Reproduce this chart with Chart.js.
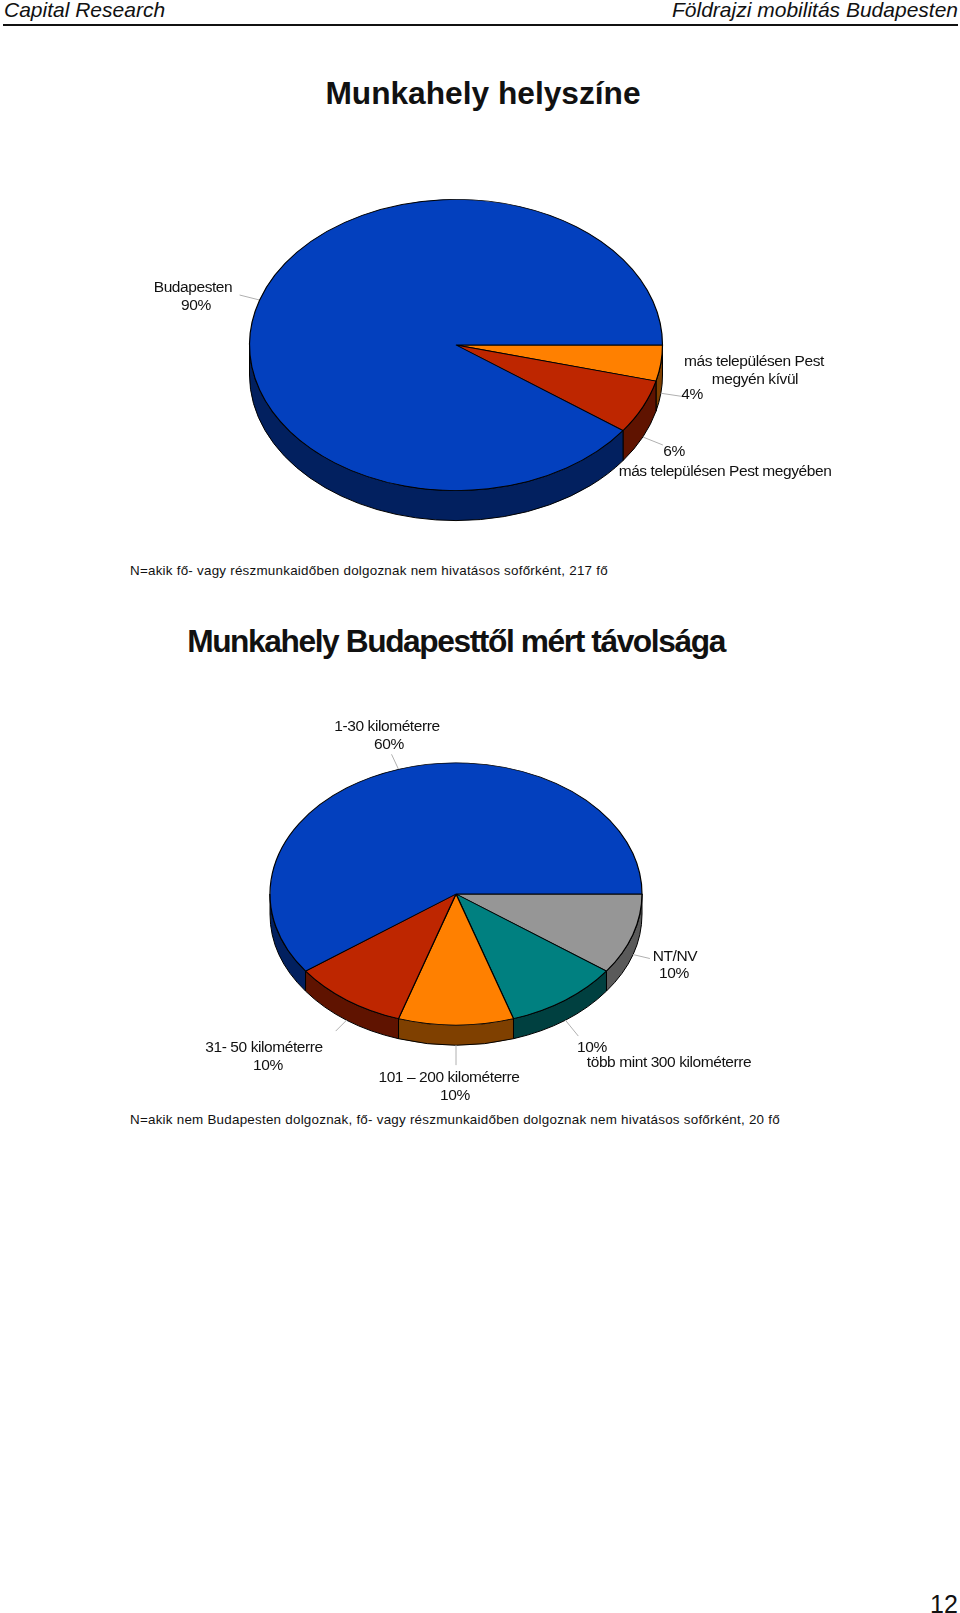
<!DOCTYPE html>
<html lang="hu">
<head>
    <meta charset="UTF-8">
    <title>Földrajzi mobilitás Budapesten</title>
    <script src="https://cdn.jsdelivr.net/npm/chart.js"></script>
    <style>
        html, body { margin: 0; padding: 0; background: #fff; }
        body { position: relative; width: 960px; height: 1613px; overflow: hidden;
               font-family: "Liberation Sans", Arial, sans-serif; color: #111; }
        canvas { position: absolute; left: 0; }
        .t { position: absolute; white-space: nowrap; transform: translate(-50%, -50%); }
        .lbl { font-size: 15.5px; letter-spacing: -0.42px; }
        .note { font-size: 13.4px; transform: translate(0, -50%); letter-spacing: 0.24px; }
        .title { font-weight: bold; font-size: 31.7px; }
        .head { font-style: italic; font-size: 21px; }
        #rule { position: absolute; left: 3px; top: 24px; width: 955px; height: 2px; background: #111; }
    </style>
</head>
<body>
    <div class="t head" style="left:4px;top:10px;transform:translate(0,-50%)">Capital Research</div>
    <div class="t head" style="right:2px;top:10px;transform:translate(0,-50%)">Földrajzi mobilitás Budapesten</div>
    <div id="rule"></div>
    <div class="t title" style="left:483px;top:93px">Munkahely helyszíne</div>
    <div class="t note" style="left:130px;top:570px">N=akik fő- vagy részmunkaidőben dolgoznak nem hivatásos sofőrként, 217 fő</div>
    <div class="t title" style="left:456px;top:641px;letter-spacing:-1.4px">Munkahely Budapesttől mért távolsága</div>
    <div class="t note" style="left:130px;top:1119px">N=akik nem Budapesten dolgoznak, fő- vagy részmunkaidőben dolgoznak nem hivatásos sofőrként, 20 fő</div>
    <div class="t" style="left:944px;top:1604px;font-size:25px">12</div>

    <canvas id="pie1" width="912" height="690" style="top:0"></canvas>
    <canvas id="pie2" width="912" height="440" style="top:674px"></canvas>

    <script>
        // first pie, clockwise from 3 o'clock
        const pie1Categories = ['más településen Pest megyén kívül', 'más településen Pest megyében', 'Budapesten'];
        const pie1Values = [4, 6, 90];
        const pie1Colors = ['#ff8000', '#be2600', '#0340be'];
        const pie1Sides = ['#7f4000', '#5f1300', '#02205f'];

        // second pie
        const pie2Categories = ['NT/NV', 'több mint 300 kilométerre', '101 – 200 kilométerre', '31- 50 kilométerre', '1-30 kilométerre'];
        const pie2Values = [10, 10, 10, 10, 60];
        const pie2Colors = ['#969696', '#008080', '#ff8000', '#be2600', '#0340be'];
        const pie2Sides = ['#5a5a5a', '#004040', '#7f4000', '#5f1300', '#02205f'];

        // label lines: [text, x, y]
        const pie1Text = [
            ['Budapesten', 193, 287], ['90%', 196, 305],
            ['más településen Pest', 754, 361], ['megyén kívül', 755, 379], ['4%', 692, 394],
            ['6%', 674, 451], ['más településen Pest megyében', 725, 471]
        ];
        const pie2Text = [
            ['1-30 kilométerre', 387, 726], ['60%', 389, 744],
            ['NT/NV', 675, 956], ['10%', 674, 973],
            ['31- 50 kilométerre', 264, 1047], ['10%', 268, 1065],
            ['101 – 200 kilométerre', 449, 1077], ['10%', 455, 1095],
            ['10%', 592, 1047], ['több mint 300 kilométerre', 669, 1062]
        ];
        // leader line ends relative to the slice edge, same order as the categories
        const pie1Leaders = [[20, 3], [20, 8], [-20, -5]];
        const pie2Leaders = [[17, 4], [13, 16], [0, 20], [-11, 11], [-7, -15]];

        const pie3d = {
            id: 'pie3d',
            beforeDatasetsDraw(chart, args, opts) {
                const ctx = chart.ctx;
                const arcs = chart.getDatasetMeta(0).data;
                const cx = arcs[0].x, cy = arcs[0].y, r = arcs[0].outerRadius;
                ctx.save();
                ctx.lineWidth = 1;
                ctx.strokeStyle = '#000';
                arcs.forEach((arc, i) => {
                    [0, 2 * Math.PI].forEach(shift => {
                        const from = Math.max(arc.startAngle, shift);
                        const to = Math.min(arc.endAngle, shift + Math.PI);
                        if (to <= from) return;
                        ctx.beginPath();
                        ctx.ellipse(cx, cy, r, r * opts.ratio, 0, from, to);
                        ctx.ellipse(cx, cy + opts.depth, r, r * opts.ratio, 0, to, from, true);
                        ctx.closePath();
                        ctx.fillStyle = opts.sides[i];
                        ctx.fill();
                        ctx.stroke();
                    });
                });
                // leader lines
                ctx.strokeStyle = '#b0b0b0';
                arcs.forEach((arc, i) => {
                    const mid = (arc.startAngle + arc.endAngle) / 2;
                    const x = cx + r * Math.cos(mid);
                    const y = cy + r * opts.ratio * Math.sin(mid) + (Math.sin(mid) > 0 ? opts.depth : 0);
                    ctx.beginPath();
                    ctx.moveTo(x, y);
                    ctx.lineTo(x + opts.leaders[i][0], y + opts.leaders[i][1]);
                    ctx.stroke();
                });
                ctx.restore();
                // squash the circle the library draws into the ellipse of the top face
                ctx.save();
                ctx.translate(cx, cy);
                ctx.scale(1, opts.ratio);
                ctx.translate(-cx, -cy);
            },
            afterDatasetsDraw(chart) {
                chart.ctx.restore();
            }
        };

        function makePie(id, labels, values, colors, radius, ratio, depth, sides, leaders) {
            new Chart(document.getElementById(id), {
                type: 'pie',
                data: {
                    labels: labels,
                    datasets: [{ data: values, backgroundColor: colors, borderColor: '#000', borderWidth: 1.2 }]
                },
                options: {
                    responsive: false,
                    animation: false,
                    rotation: 90,
                    radius: radius,
                    plugins: {
                        legend: { display: false },
                        tooltip: { enabled: false },
                        pie3d: { ratio: ratio, depth: depth, sides: sides, leaders: leaders }
                    }
                },
                plugins: [pie3d]
            });
        }

        makePie('pie1', pie1Categories, pie1Values, pie1Colors, 206.5, 0.705, 30, pie1Sides, pie1Leaders);
        makePie('pie2', pie2Categories, pie2Values, pie2Colors, 186, 0.705, 20, pie2Sides, pie2Leaders);

        pie1Text.concat(pie2Text).forEach(([text, x, y]) => {
            const d = document.createElement('div');
            d.className = 't lbl';
            d.textContent = text;
            d.style.left = x + 'px';
            d.style.top = y + 'px';
            document.body.appendChild(d);
        });
    </script>
</body>
</html>
